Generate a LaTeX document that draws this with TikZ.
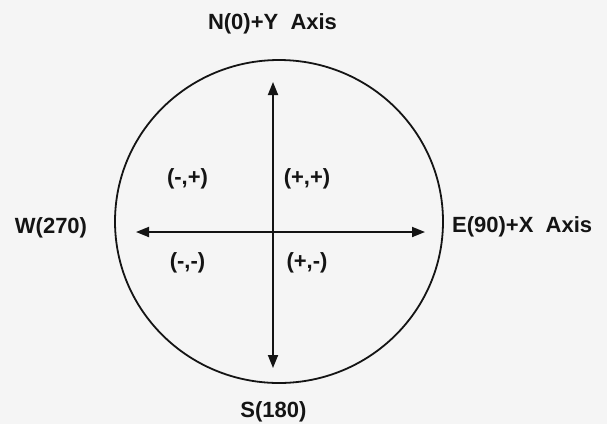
\documentclass[tikz,border=0pt]{standalone}
\usepackage{fontspec}
\setmainfont{Liberation Sans}
\usetikzlibrary{arrows.meta}
\definecolor{bg}{RGB}{245,245,245}
\definecolor{ink}{RGB}{20,20,20}
\begin{document}
\begin{tikzpicture}[x=1pt,y=-1pt,
  lbl/.style={font=\bfseries\fontsize{22}{26}\selectfont, inner sep=0pt, anchor=base, text=ink},
  axisline/.style={draw=ink, line width=1.8pt, {Triangle[length=13pt,width=10pt]}-{Triangle[length=13pt,width=10pt]}}]
\fill[bg] (0,0) rectangle (607,424);
\useasboundingbox (0,0) rectangle (607,424);
\draw[ink, line width=1.8pt] (279,221.5) ellipse [x radius=164pt, y radius=161.5pt];
\coordinate (top) at (273,82);
\coordinate (bot) at (273,368);
\coordinate (lft) at (136,232);
\coordinate (rgt) at (425,232);
\draw[axisline] (top) -- (bot);
\draw[axisline] (lft) -- (rgt);
\node[lbl] (n) at (272.5,29) {N(0)+Y\ \ Axis};
\node[lbl, anchor=base west] (e) at (452,232) {E(90)+X\ \ Axis};
\node[lbl] (w) at (51,233) {W(270)};
\node[lbl] (s) at (273.5,417) {S(180)};
\node[lbl] (q2) at (187.5,184) {(-,+)};
\node[lbl] (q1) at (307,184) {(+,+)};
\node[lbl] (q3) at (187.5,268) {(-,-)};
\node[lbl] (q4) at (307,268) {(+,-)};
\end{tikzpicture}
\end{document}
